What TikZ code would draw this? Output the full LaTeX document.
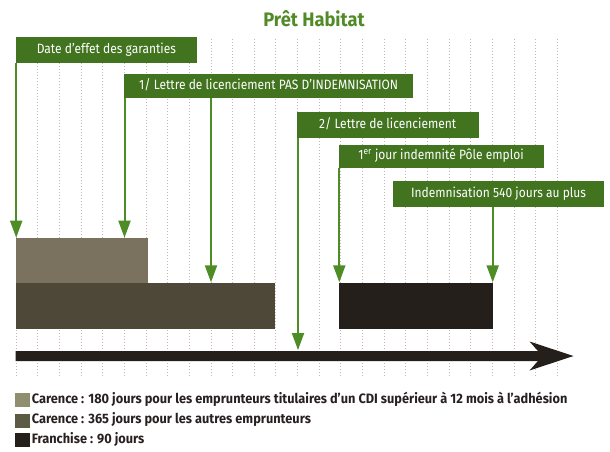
\documentclass[tikz,border=0pt]{standalone}
\usepackage{fontspec}
\setmainfont{Fira Sans}
\newfontfamily\cond{Fira Sans}[FakeStretch=0.89]
\newfontfamily\legfont{Fira Sans}[FakeStretch=0.94]
\usetikzlibrary{arrows.meta}
\definecolor{boxgreen}{RGB}{66,116,32}
\definecolor{titlegreen}{RGB}{82,138,40}
\definecolor{linegreen}{RGB}{78,140,38}
\definecolor{gridcol}{RGB}{196,182,188}
\definecolor{carA}{RGB}{122,113,94}
\definecolor{carB}{RGB}{78,72,56}
\definecolor{franch}{RGB}{36,31,27}
\definecolor{legA}{RGB}{145,142,112}
\definecolor{legB}{RGB}{92,90,66}
\definecolor{legtext}{RGB}{40,32,32}
\tikzset{
  gbox/.style={fill=boxgreen, text=white, font=\cond\fontsize{13.5}{15}\selectfont,
    inner sep=0pt, anchor=north west, align=center, text height=9.5pt, text depth=2.7pt},
  period/.style={inner sep=0pt, anchor=north west},
  garrow/.style={draw=linegreen, line width=2pt, -{Triangle[length=17pt,width=12pt]}},
  gridline/.style={draw=gridcol, line width=0.7pt, dash pattern=on 0.8pt off 2.2pt},
  legsq/.style={inner sep=0pt, minimum width=15pt, minimum height=14pt, anchor=west},
  legtxt/.style={inner sep=0pt, anchor=west, text=legtext, font=\legfont\bfseries\fontsize{13.6}{15}\selectfont, text height=9.4pt, text depth=2.8pt}
}
\begin{document}
\begin{tikzpicture}[x=1pt,y=-1pt]
\useasboundingbox (0,0) rectangle (610,451);
% grid
\foreach \k in {0,...,25} {
  \draw[gridline] ({16+21.65*\k},39) -- ({16+21.65*\k},376);
}
% title
\node[font=\legfont\bfseries\fontsize{19.5}{22}\selectfont, text=titlegreen, inner sep=0pt] (title) at (314,18.5) {Prêt Habitat};
% boxes
\node[gbox, minimum width=181pt, minimum height=25.5pt] (b1) at (15.7,37) {Date d’effet des garanties};
\node[gbox, minimum width=289pt, minimum height=24.5pt] (b2) at (124,73.5) {1/ Lettre de licenciement PAS D’INDEMNISATION};
\node[gbox, minimum width=181.6pt, minimum height=25.6pt] (b3) at (296.7,111.7) {2/ Lettre de licenciement};
\node[gbox, minimum width=205pt, minimum height=23.5pt] (b4) at (338.3,144.5) {1\textsuperscript{er} jour indemnité Pôle emploi};
\node[gbox, minimum width=211.3pt, minimum height=26pt] (b5) at (392.7,181) {Indemnisation 540 jours au plus};
% periods
\node[period, fill=carA, minimum width=132pt, minimum height=44.6pt] (r1) at (15.7,237.7) {};
\node[period, fill=carB, minimum width=259.3pt, minimum height=46.7pt] (r2) at (15.7,282.3) {};
\node[period, fill=franch, minimum width=154pt, minimum height=46.7pt] (r3) at (338.3,282.3) {};
% time axis
\fill[franch] (15.7,351) -- (538,351) -- (529.5,341.5) -- (573.5,356) -- (529.5,370.5) -- (538,361) -- (15.7,361) -- cycle;
\coordinate (axtop) at (298,350);
% arrows
\draw[garrow] ([xshift=0.5pt]b1.south west) -- ([xshift=0.5pt]b1.south west |- r1.north);
\draw[garrow] ([xshift=0.5pt]b2.south west) -- ([xshift=0.5pt]b2.south west |- r1.north);
\draw[garrow] ([xshift=87pt]b2.south west) -- ([xshift=87pt]b2.south west |- r2.north);
\draw[garrow] ([xshift=1.3pt]b3.south west) -- ([xshift=1.3pt]b3.south west |- axtop);
\draw[garrow] ([xshift=1pt]b4.south west) -- ([xshift=1pt]b4.south west |- r3.north);
\draw[garrow] (b5.south -| r3.north east) -- (r3.north east);
% legend
\node[legsq, fill=legA] (s1) at (15,400) {};
\node[legsq, fill=legB] (s2) at (15,420.5) {};
\node[legsq, fill=franch] (s3) at (15,440) {};
\node[legtxt] (t1) at (31.7,400) {Carence : 180 jours pour les emprunteurs titulaires d’un CDI supérieur à 12 mois à l’adhésion};
\node[legtxt] (t2) at (31.7,420.5) {Carence : 365 jours pour les autres emprunteurs};
\node[legtxt] (t3) at (31.7,440) {Franchise : 90 jours};
\end{tikzpicture}
\end{document}
